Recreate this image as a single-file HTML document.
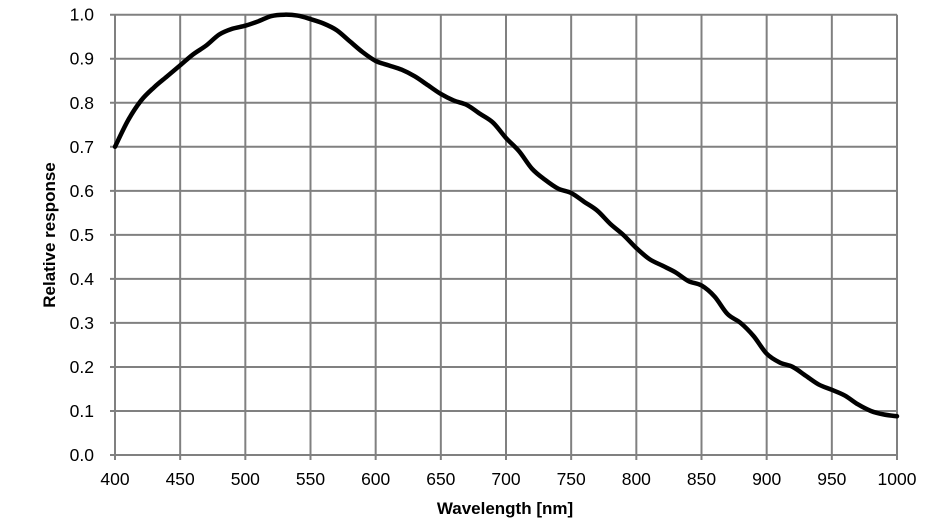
<!DOCTYPE html>
<html><head><style>
html,body{margin:0;padding:0;background:#fff;}
svg{display:block;font-family:"Liberation Sans",Arial,sans-serif;}
</style></head><body>
<svg id="s" width="934" height="525" xmlns="http://www.w3.org/2000/svg">
<g id="grid" stroke="#808080" stroke-width="2" fill="none"></g>
<g id="lab" font-size="17.5" fill="#000"></g>
<path id="curve" fill="none" stroke="#000" stroke-width="4.5" stroke-linejoin="round" stroke-linecap="round"/>
<text x="505" y="514" font-size="17" font-weight="bold" text-anchor="middle">Wavelength [nm]</text>
<text transform="translate(55,235) rotate(-90)" font-size="17" font-weight="bold" text-anchor="middle">Relative response</text>
</svg>
<script>
var X0=115,X1=897,Y0=455,Y1=14.7;
function px(n){return X0+(n-400)/600*(X1-X0);}
function py(v){return Y0-v*(Y0-Y1);}
var g=document.getElementById('grid'),l=document.getElementById('lab'),h='',t='';
for(var i=0;i<=12;i++){var x=px(400+50*i);h+='<line x1="'+x+'" y1="'+Y1+'" x2="'+x+'" y2="'+(Y0+5)+'"/>';
t+='<text x="'+x+'" y="485" text-anchor="middle">'+(400+50*i)+'</text>';}
for(var j=0;j<=10;j++){var y=py(j/10);h+='<line x1="'+(X0-5)+'" y1="'+y+'" x2="'+X1+'" y2="'+y+'"/>';
t+='<text x="94" y="'+(y+6)+'" text-anchor="end">'+(j/10).toFixed(1)+'</text>';}
g.innerHTML=h;l.innerHTML=t;
var d=[.70,.76,.805,.835,.86,.885,.91,.93,.955,.968,.975,.985,.997,1.0,.998,.99,.98,.965,.94,.915,.895,.885,.875,.86,.84,.82,.805,.795,.775,.755,.72,.69,.65,.625,.605,.595,.575,.555,.525,.5,.47,.445,.43,.415,.395,.385,.36,.32,.3,.27,.23,.21,.2,.18,.16,.148,.135,.115,.1,.092,.088];
var p=[];for(var k=0;k<d.length;k++)p.push([px(400+10*k),py(d[k])]);
var s='M'+p[0][0]+','+p[0][1];
for(var k=0;k<p.length-1;k++){var a=p[k-1]||p[k],b=p[k],c=p[k+1],e=p[k+2]||c;
s+=' C'+(b[0]+(c[0]-a[0])/6)+','+(b[1]+(c[1]-a[1])/6)+' '+(c[0]-(e[0]-b[0])/6)+','+(c[1]-(e[1]-b[1])/6)+' '+c[0]+','+c[1];}
document.getElementById('curve').setAttribute('d',s);
</script>
</body></html>
